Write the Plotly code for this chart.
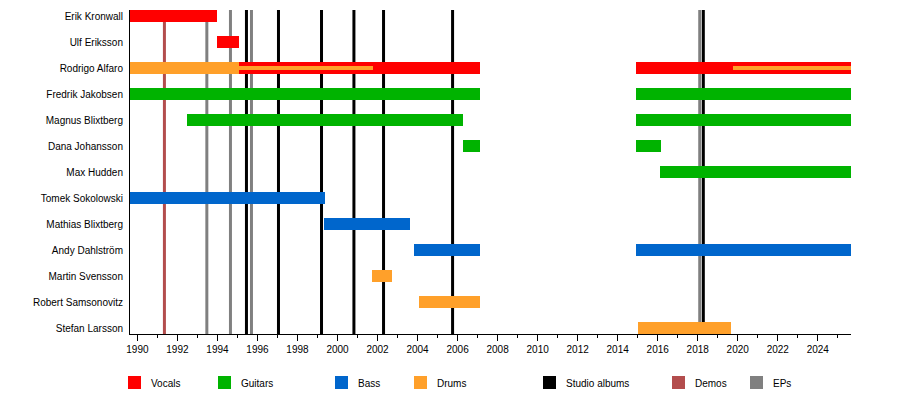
import plotly.graph_objects as go

# ---------------- data ----------------
members = ["Erik Kronwall", "Ulf Eriksson", "Rodrigo Alfaro", "Fredrik Jakobsen",
           "Magnus Blixtberg", "Dana Johansson", "Max Hudden", "Tomek Sokolowski",
           "Mathias Blixtberg", "Andy Dahlström", "Martin Svensson",
           "Robert Samsonovitz", "Stefan Larsson"]

START = 1989.63
END = 2025.66

# (member, start, end)
vocals = [("Erik Kronwall", START, 1994.0),
          ("Ulf Eriksson", 1994.0, 1995.07),
          ("Rodrigo Alfaro", 1995.07, 2007.13),
          ("Rodrigo Alfaro", 2014.93, END)]
guitars = [("Fredrik Jakobsen", START, 2007.13),
           ("Fredrik Jakobsen", 2014.93, END),
           ("Magnus Blixtberg", 1992.5, 2006.27),
           ("Magnus Blixtberg", 2014.93, END),
           ("Dana Johansson", 2006.25, 2007.13),
           ("Dana Johansson", 2014.93, 2016.18),
           ("Max Hudden", 2016.13, END)]
bass = [("Tomek Sokolowski", START, 1999.35),
        ("Mathias Blixtberg", 1999.33, 2003.63),
        ("Andy Dahlström", 2003.83, 2007.13),
        ("Andy Dahlström", 2014.93, END)]
drums = [("Rodrigo Alfaro", START, 1995.07),
         ("Martin Svensson", 2001.73, 2002.73),
         ("Robert Samsonovitz", 2004.08, 2007.13),
         ("Stefan Larsson", 2015.03, 2019.68)]
drums_secondary = [("Rodrigo Alfaro", 1995.07, 2001.77),
                   ("Rodrigo Alfaro", 2019.75, END)]

studio_albums = [1995.45, 1997.05, 1999.2, 2000.82, 2002.3, 2005.75, 2018.28]
demos = [1991.35]
eps = [1993.47, 1994.65, 1995.7, 2018.1]

tick_years = list(range(1990, 2025, 2))

# ---------------- styles ----------------
C_VOC = "#ff0000"
C_GUI = "#00b300"
C_BASS = "#0066cc"
C_DRUM = "#ffa02a"
C_ALB = "#000000"
C_DEMO = "#b34d4d"
C_EP = "#808080"

FONT = "Liberation Sans, Arial, sans-serif"
ROW_PX = 26
BAR_W = 12 / ROW_PX
THIN_W = 4 / ROW_PX

# page offset (body margin) compensation
OFF = 8
PAGE_W, PAGE_H = 900, 394
W, H = PAGE_W - OFF, PAGE_H - OFF
# plot area in page pixels: x 130..851, y 10..334
PL, PR, PT, PB = 130, 851, 10, 334
ML, MT = PL - OFF, PT - OFF
MR = PAGE_W - PR
MB = PAGE_H - PB
PW = PR - PL
PH = PB - PT

idx = {m: i for i, m in enumerate(members)}

fig = go.Figure()


def add_bars(items, color, width, name):
    fig.add_trace(go.Bar(
        orientation="h",
        y=[idx[m] for m, s, e in items],
        x=[e - s for m, s, e in items],
        base=[s for m, s, e in items],
        width=width,
        marker=dict(color=color, line=dict(width=0)),
        name=name, showlegend=False, hoverinfo="skip"))


add_bars(vocals, C_VOC, BAR_W, "Vocals")
add_bars(guitars, C_GUI, BAR_W, "Guitars")
add_bars(bass, C_BASS, BAR_W, "Bass")
add_bars(drums, C_DRUM, BAR_W, "Drums")
add_bars(drums_secondary, C_DRUM, THIN_W, "Drums (secondary)")

shapes = []
for yr, col in ([(y, C_DEMO) for y in demos] + [(y, C_EP) for y in eps] +
                [(y, C_ALB) for y in studio_albums]):
    shapes.append(dict(type="line", xref="x", yref="paper", x0=yr, x1=yr,
                       y0=0, y1=1, line=dict(color=col, width=3), layer="below"))

# manual legend (page pixel x of each swatch)
legend_items = [("Vocals", C_VOC, 128), ("Guitars", C_GUI, 218), ("Bass", C_BASS, 335),
                ("Drums", C_DRUM, 414), ("Studio albums", C_ALB, 543),
                ("Demos", C_DEMO, 672), ("EPs", C_EP, 750)]


def px_x(p):
    return (p - PL) / PW


def px_y(p):
    return (PB - p) / PH


annotations = []
for label, col, px in legend_items:
    shapes.append(dict(type="rect", xref="paper", yref="paper",
                       x0=px_x(px), x1=px_x(px + 13), y0=px_y(389), y1=px_y(376),
                       fillcolor=col, line=dict(width=0)))
    annotations.append(dict(xref="paper", yref="paper", x=px_x(px + 21), y=px_y(383),
                            text=label, showarrow=False, xanchor="left", yanchor="middle",
                            font=dict(family=FONT, size=10, color="#000")))

fig.update_layout(
    width=W, height=H,
    margin=dict(l=ML, r=MR, t=MT, b=MB, pad=0),
    paper_bgcolor="white", plot_bgcolor="white",
    barmode="overlay", bargap=0,
    showlegend=False,
    shapes=shapes, annotations=annotations,
    font=dict(family=FONT, size=10, color="#000"),
    xaxis=dict(range=[START, END], tickvals=tick_years, ticktext=[str(t) for t in tick_years],
               ticks="outside", ticklen=6, tickwidth=1, tickcolor="#000",
               minor=dict(dtick=1, tick0=1990, ticks="outside", ticklen=3, tickcolor="#000",
                          showgrid=False),
               showgrid=False, zeroline=False, showline=True, linecolor="#000", linewidth=1,
               tickfont=dict(family=FONT, size=10, color="#000"), fixedrange=True),
    yaxis=dict(range=[len(members) - 1 + 6 / ROW_PX, -6 / ROW_PX],
               tickvals=list(range(len(members))), ticktext=members,
               ticks="", showgrid=False, zeroline=False, showline=True,
               linecolor="#000", linewidth=1, ticklabelstandoff=4,
               tickfont=dict(family=FONT, size=10, color="#000"), fixedrange=True),
)

fig.write_html("out.html")
